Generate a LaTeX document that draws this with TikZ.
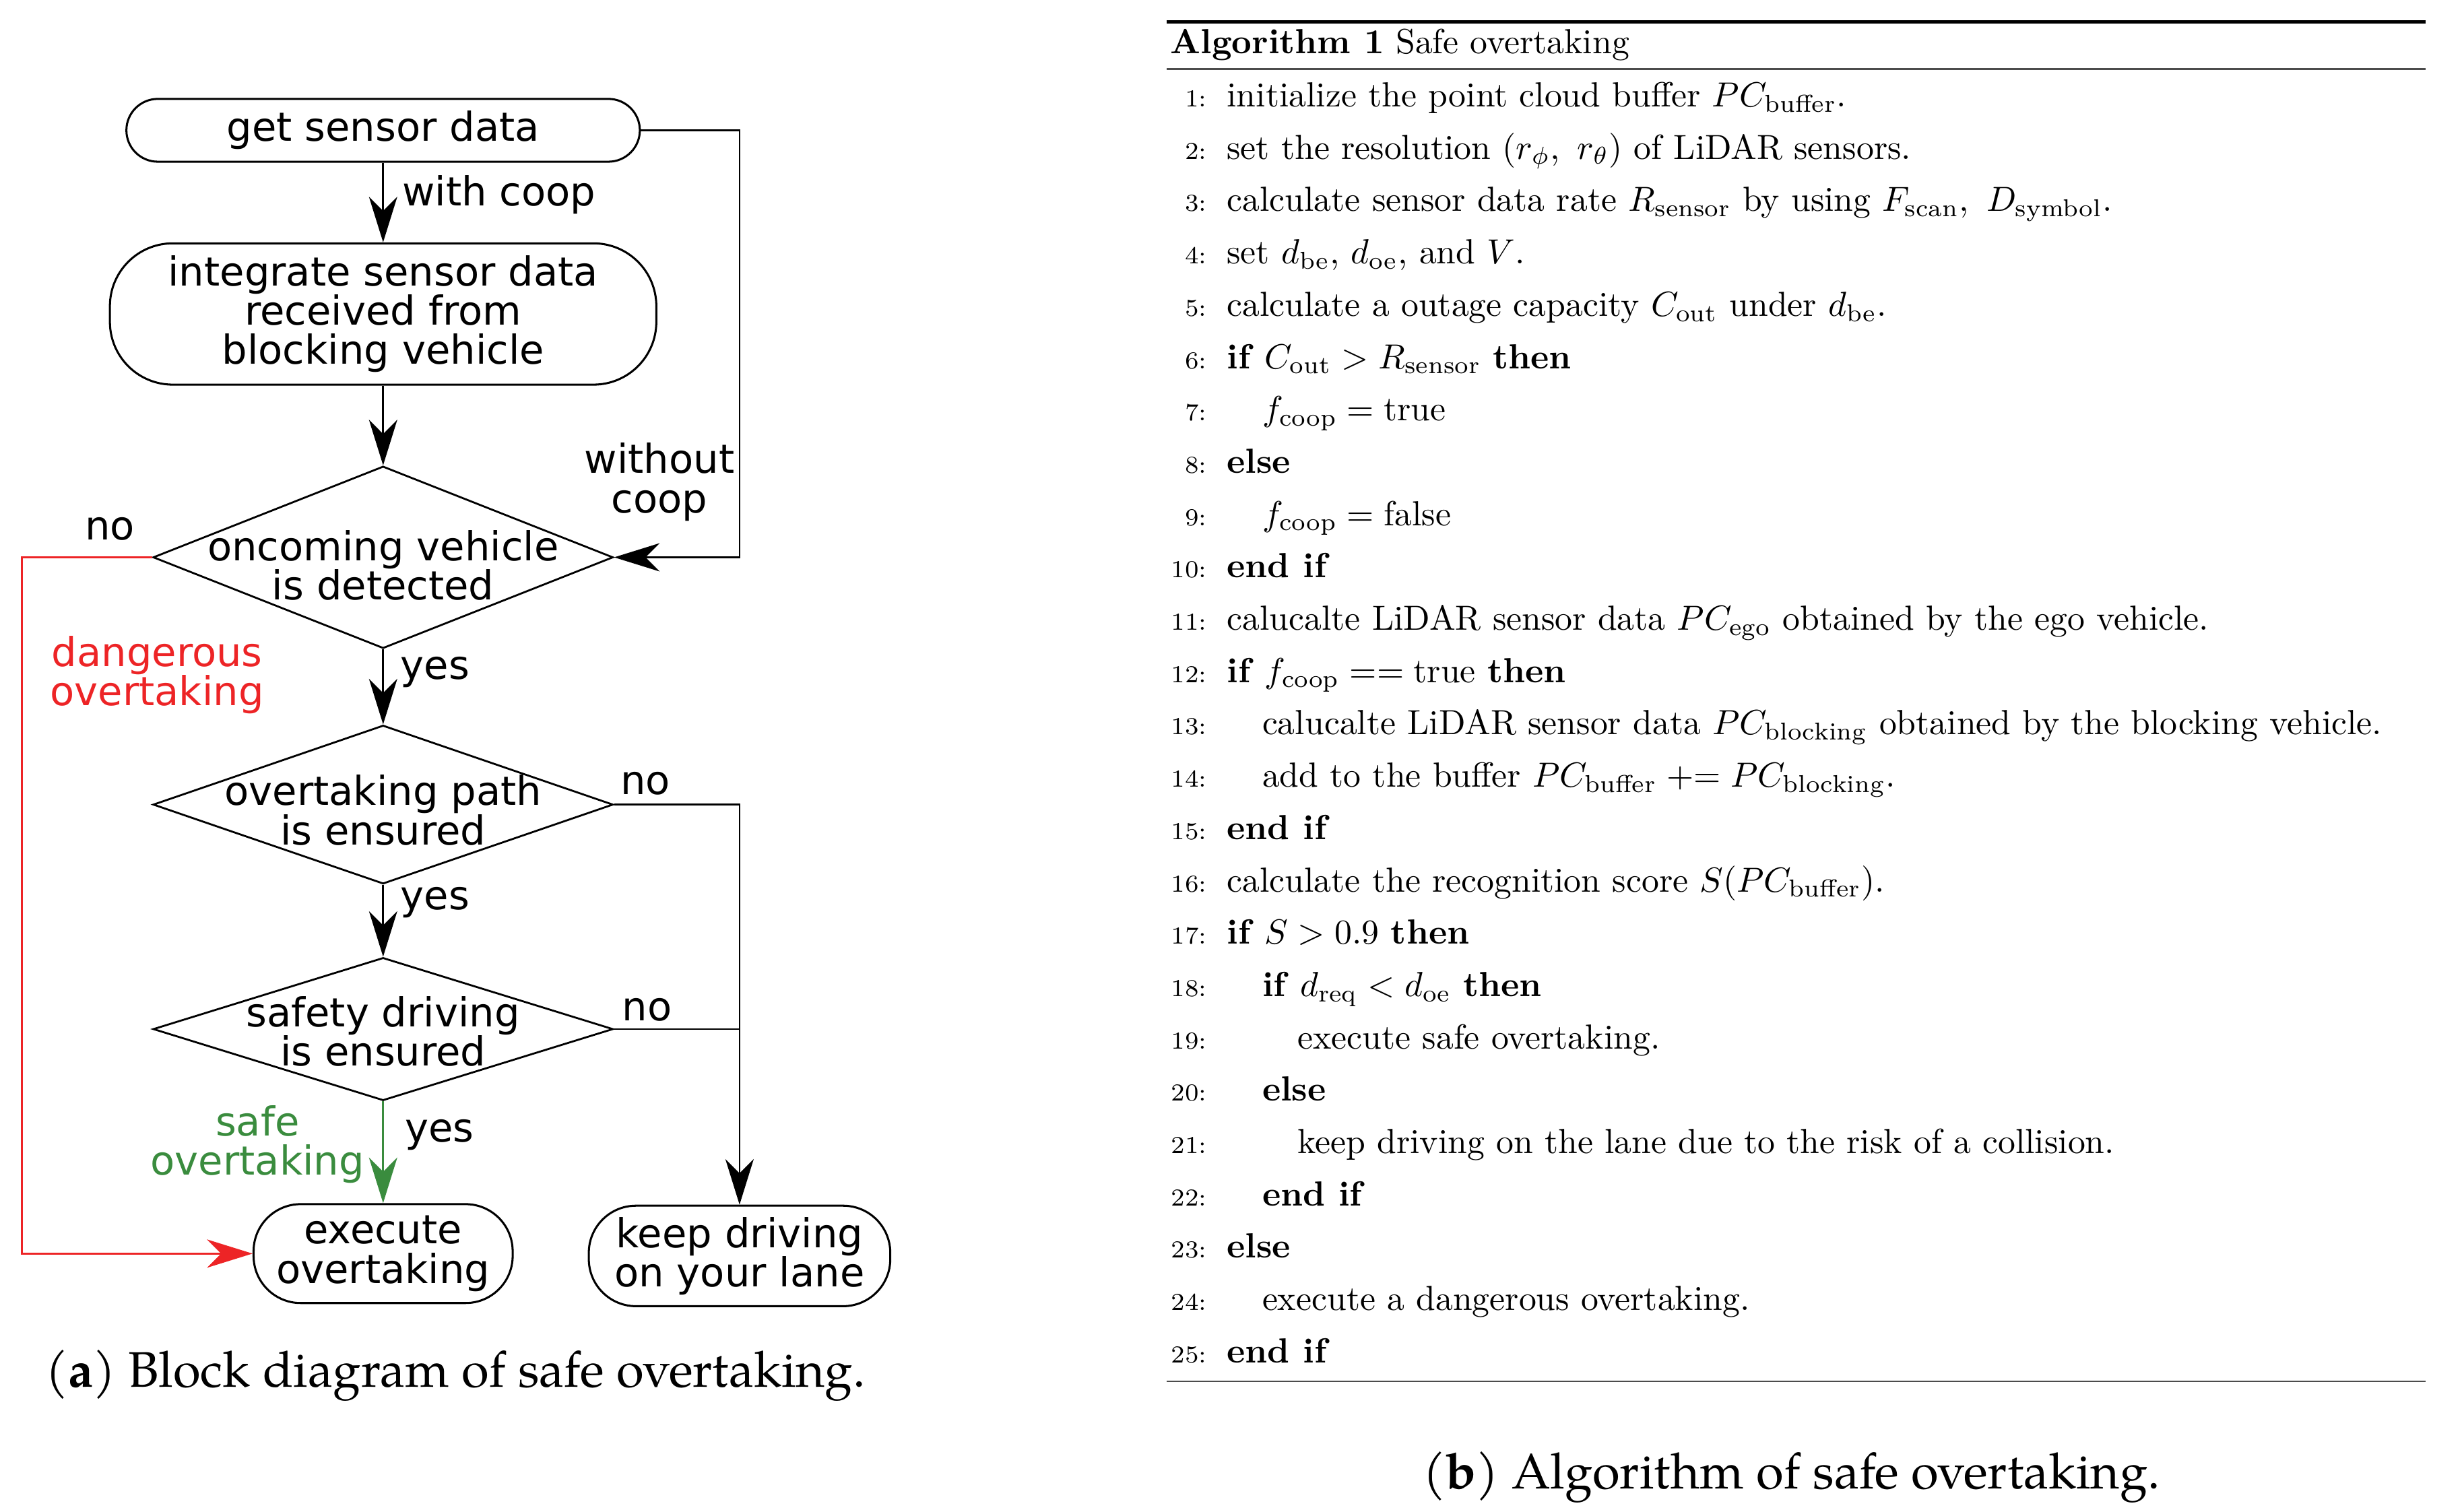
\documentclass[tikz,border=0pt]{standalone}
\usepackage{amsmath}
\usepackage{fontspec}
\newfontfamily\dejavu{DejaVu Sans}
\newfontfamily\palfont{texgyrepagella}[Extension=.otf, UprightFont=*-regular, BoldFont=*-bold]
\usetikzlibrary{arrows.meta,shapes.geometric}
\definecolor{fcred}{RGB}{237,36,38}
\definecolor{fcgreen}{RGB}{58,140,62}
\newcommand{\algline}[3]{%
  \node[num] (n#1) at (769,{68+(#1-1)*33.333}) {#1:};
  \node[alg] (l#1) at ({781+#2*22.5},{68+(#1-1)*33.333}) {#3};}
\begin{document}
\begin{tikzpicture}[x=1pt,y=-1pt,
  fc/.style={font=\dejavu\fontsize{25.4}{25}\selectfont, align=center, inner sep=0pt},
  box/.style={draw, line width=1.3pt, rounded corners=#1, inner sep=0pt},
  dia/.style={draw, diamond, line width=1.2pt, inner sep=0pt},
  arr/.style={line width=1.2pt, -{Stealth[length=29pt,width=18pt,inset=9pt]}},
  ln/.style={line width=1.2pt},
  alg/.style={anchor=base west, inner sep=0pt, scale=2.22},
  num/.style={anchor=base east, inner sep=0pt, scale=2.22, font=\scriptsize},
  captxt/.style={font=\palfont\fontsize{31.8}{38}\selectfont, inner sep=0pt}]
\fill[white] (0,0) rectangle (1568,963);
\useasboundingbox (0,0) rectangle (1568,963);

% ---------- flowchart ----------
\node[box=20pt, minimum width=327pt, minimum height=40pt, fc] (get) at (244,83) {get sensor data};
\node[box=40pt, minimum width=348pt, minimum height=90pt, fc] (integ) at (244,200) {integrate sensor data\\received from\\blocking vehicle};
\node[dia, minimum width=293pt, minimum height=116pt] (d1) at (244,355) {};
\node[fc] (t1) at (244,360) {oncoming vehicle\\is detected};
\node[dia, minimum width=293pt, minimum height=101pt] (d2) at (244,512.5) {};
\node[fc] (t2) at (244,516) {overtaking path\\is ensured};
\node[dia, minimum width=293pt, minimum height=91pt] (d3) at (244,655.5) {};
\node[fc] (t3) at (244,657) {safety driving\\is ensured};
\node[box=30pt, minimum width=165pt, minimum height=63pt, fc] (exe) at (244,798.5) {execute\\overtaking};
\node[box=30pt, minimum width=192pt, minimum height=64pt, fc] (keep) at (471,800) {keep driving\\on your lane};

\coordinate (rx) at (471,0);
\coordinate (lx) at (14,0);

\draw[arr] (get.south) -- (integ.north);
\draw[arr] (integ.south) -- (d1.north);
\draw[arr] (get.east) -| (rx |- d1.east) -- (d1.east);
\draw[arr, fcred] (d1.west) -| (lx |- exe.west) -- (exe.west);
\draw[arr] (d1.south) -- (d2.north);
\draw[arr] (d2.east) -| (keep.north);
\draw[arr] (d2.south) -- (d3.north);
\draw[ln] (d3.east) -- (d3.east -| keep.north);
\draw[arr, fcgreen] (d3.south) -- (exe.north);

\node[fc, anchor=west] (lwith) at (256,124) {with coop};
\node[fc] (lwo) at (420,307) {without\\coop};
\node[fc] (lno1) at (70,337) {no};
\node[fc, text=fcred] (ldang) at (100,430) {dangerous\\overtaking};
\node[fc] (lyes1) at (277,428) {yes};
\node[fc] (lno2) at (411,499) {no};
\node[fc] (lyes2) at (277,575) {yes};
\node[fc] (lno3) at (412,643) {no};
\node[fc] (lyes3) at (280,723) {yes};
\node[fc, text=fcgreen] (lsafe) at (164,729) {safe\\overtaking};

\node[captxt] (capa) at (290,876) {(\textbf{a}) Block diagram of safe overtaking.};

% ---------- algorithm ----------
\draw[line width=2.2pt] (743,14) -- (1545,14);
\node[alg] (hdr) at (745,34) {\textbf{Algorithm 1} Safe overtaking};
\draw[line width=1pt, black!70] (743,44) -- (1545,44);
\algline{1}{0}{initialize the point cloud buffer $PC_{\text{buffer}}$.}
\algline{2}{0}{set the resolution $(r_{\phi},\ r_{\theta})$ of LiDAR sensors.}
\algline{3}{0}{calculate sensor data rate $R_{\text{sensor}}$ by using $F_{\text{scan}},\ D_{\text{symbol}}$.}
\algline{4}{0}{set $d_{\text{be}}$, $d_{\text{oe}}$, and $V$.}
\algline{5}{0}{calculate a outage capacity $C_{\text{out}}$ under $d_{\text{be}}$.}
\algline{6}{0}{\textbf{if} $C_{\text{out}} > R_{\text{sensor}}$ \textbf{then}}
\algline{7}{1}{$f_{\text{coop}} = \text{true}$}
\algline{8}{0}{\textbf{else}}
\algline{9}{1}{$f_{\text{coop}} = \text{false}$}
\algline{10}{0}{\textbf{end if}}
\algline{11}{0}{calucalte LiDAR sensor data $PC_{\text{ego}}$ obtained by the ego vehicle.}
\algline{12}{0}{\textbf{if} $f_{\text{coop}} == \text{true}$ \textbf{then}}
\algline{13}{1}{calucalte LiDAR sensor data $PC_{\text{blocking}}$ obtained by the blocking vehicle.}
\algline{14}{1}{add to the buffer $PC_{\text{buffer}} \mathrel{+}= PC_{\text{blocking}}$.}
\algline{15}{0}{\textbf{end if}}
\algline{16}{0}{calculate the recognition score $S(PC_{\text{buffer}})$.}
\algline{17}{0}{\textbf{if} $S > 0.9$ \textbf{then}}
\algline{18}{1}{\textbf{if} $d_{\text{req}} < d_{\text{oe}}$ \textbf{then}}
\algline{19}{2}{execute safe overtaking.}
\algline{20}{1}{\textbf{else}}
\algline{21}{2}{keep driving on the lane due to the risk of a collision.}
\algline{22}{1}{\textbf{end if}}
\algline{23}{0}{\textbf{else}}
\algline{24}{1}{execute a dangerous overtaking.}
\algline{25}{0}{\textbf{end if}}
\draw[line width=1pt, black!70] (743,880) -- (1545,880);

\node[captxt] (capb) at (1141,941) {(\textbf{b}) Algorithm of safe overtaking.};
\end{tikzpicture}
\end{document}
